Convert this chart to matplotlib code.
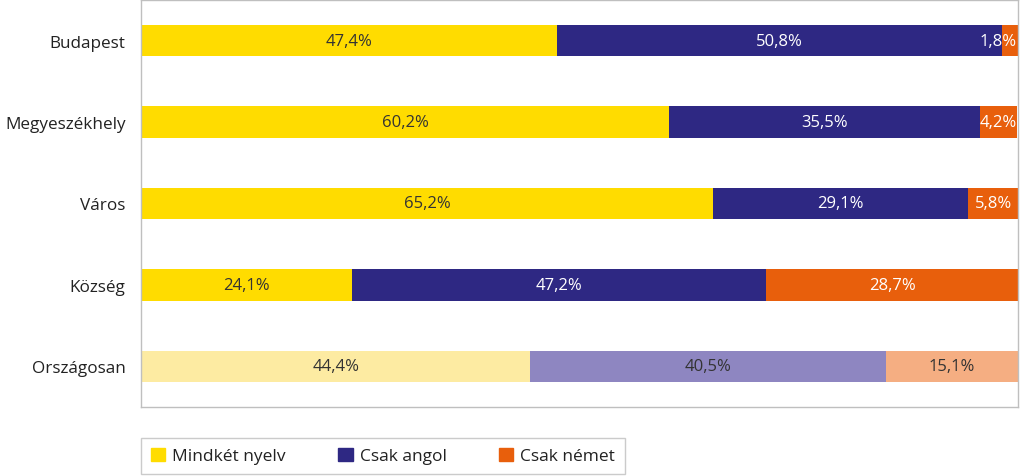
import matplotlib.pyplot as plt
import numpy as np

# Data
categories = ["Budapest", "Megyeszékhely", "Város", "Község", "Országosan"]
series_names = ["Mindkét nyelv", "Csak angol", "Csak német"]
mindket = [47.4, 60.2, 65.2, 24.1, 44.4]
angol = [50.8, 35.5, 29.1, 47.2, 40.5]
nemet = [1.8, 4.2, 5.8, 28.7, 15.1]

# Colours: normal rows and the lighter national row
colors = ["#FFDC00", "#2E2883", "#E85F0C"]
light_colors = ["#FDEBA2", "#8E86C1", "#F5AE82"]
text_colors = ["#333333", "white", "white"]
light_text = ["#333333", "#333333", "#333333"]

plt.rcParams['font.family'] = ['Open Sans', 'DejaVu Sans']

fig = plt.figure(figsize=(10.24, 4.77), dpi=100)
ax = fig.add_axes([141 / 1024, 1 - 408 / 477, 877 / 1024, 407 / 477])

y = np.arange(len(categories))
values = [mindket, angol, nemet]
left = np.zeros(len(categories))
for s, vals in enumerate(values):
    vals = np.array(vals)
    cols = [light_colors[s] if i == len(categories) - 1 else colors[s] for i in range(len(categories))]
    ax.barh(y, vals, left=left, height=0.385, color=cols, label=series_names[s])
    for i, v in enumerate(vals):
        tc = light_text[s] if i == len(categories) - 1 else text_colors[s]
        label = f"{v:.1f}%".replace(".", ",")
        if v < 5:
            ax.text(99.9, i, label, ha="right", va="center", color=tc, fontsize=12)
        else:
            ax.text(left[i] + v / 2, i, label, ha="center", va="center", color=tc, fontsize=12)
    left += vals

ax.set_xlim(0, 100)
ax.set_ylim(len(categories) - 0.5, -0.5)
ax.set_yticks(y)
ax.set_yticklabels(categories, fontsize=12.3, color="#222222")
ax.set_xticks([])
ax.tick_params(axis="y", length=0, pad=11)
for sp in ax.spines.values():
    sp.set_color("#BFBFBF")
    sp.set_linewidth(1)

# Legend in a box below the plot
handles = [plt.Rectangle((0, 0), 1, 1, color=c) for c in colors]
leg = fig.legend(handles, series_names, loc="center left", ncol=3,
                 bbox_to_anchor=(141 / 1024, 1 - 457 / 477), fontsize=12.5,
                 frameon=True, fancybox=False, edgecolor="#BFBFBF",
                 handlelength=0.85, handleheight=0.85, handletextpad=0.4,
                 columnspacing=3.0, borderpad=0.55, borderaxespad=0)
leg.get_frame().set_linewidth(1)
leg._legend_box.sep = 0
for t in leg.get_texts():
    t.set_color("#222222")

fig.savefig("out.png", dpi=100)
